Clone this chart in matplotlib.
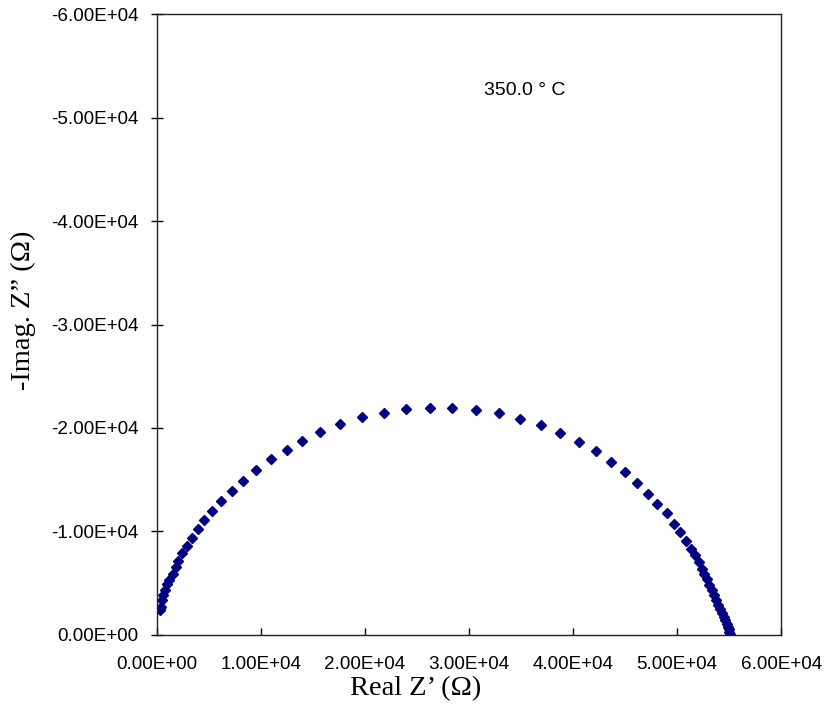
import matplotlib
matplotlib.use("Agg")
import matplotlib.pyplot as plt
from matplotlib.ticker import FuncFormatter, MultipleLocator

# Real Z' (ohm)
z_real = [317, 384, 509, 634, 826, 1018, 1210, 1537, 1825, 2075, 2459, 2939,
          3420, 3996, 4573, 5341, 6206, 7262, 8319, 9510, 10951, 12488, 13987,
          15716, 17637, 19693, 21835, 23977, 26254, 28396, 30701, 32834, 34880,
          36888, 38770, 40567, 42229, 43641, 45015, 46168, 47195, 48089, 48973,
          49664, 50240, 50874, 51355, 51739, 52123, 52411, 52603, 52834, 53084,
          53295, 53487, 53679, 53871, 54063, 54255, 54447, 54591, 54735, 54831,
          54927, 55004, 55071]
# Imag Z'' (ohm), negative
z_imag = [-2415, -2734, -3382, -3865, -4348, -4928, -5314, -5894, -6599, -7179,
          -7894, -8599, -9343, -10213, -11111, -11981, -12899, -13884, -14908,
          -15942, -16976, -17845, -18744, -19643, -20386, -21034, -21420, -21807,
          -21903, -21903, -21768, -21420, -20870, -20261, -19517, -18618, -17749,
          -16715, -15720, -14686, -13652, -12638, -11758, -10754, -9981, -9111,
          -8338, -7729, -7053, -6406, -5894, -5382, -4802, -4348, -3865, -3382,
          -2899, -2512, -2126, -1739, -1401, -1063, -773, -531, -290, -97]

annotation = "350.0 \u00b0 C"
xlabel = "Real Z\u2019 (\u03a9)"
ylabel = "-Imag. Z\u201d (\u03a9)"

fig = plt.figure(figsize=(8.24, 7.11), dpi=100)
ax = fig.add_axes([0.1902, 0.1069, 0.7580, 0.8734])

ax.plot(z_real, z_imag, linestyle="none", marker="D", markersize=5.3,
        color="#000080", markeredgecolor="#000080")

ax.set_xlim(0, 60000)
ax.set_ylim(0, -60000)
ax.xaxis.set_major_locator(MultipleLocator(10000))
ax.yaxis.set_major_locator(MultipleLocator(10000))
fmt = FuncFormatter(lambda v, p: "%.2E" % v)
ax.xaxis.set_major_formatter(fmt)
ax.yaxis.set_major_formatter(fmt)

tick_font = "Liberation Sans"
ax.tick_params(axis="x", direction="in", length=5, width=1, pad=15,
               labelsize=13.6)
ax.tick_params(axis="y", direction="inout", length=9, width=1, pad=8.5,
               labelsize=13.6)
for lab in ax.get_xticklabels() + ax.get_yticklabels():
    lab.set_fontfamily(tick_font)

for s in ax.spines.values():
    s.set_linewidth(1)
    s.set_color("#222222")

ax.set_xlabel(xlabel, fontsize=20.5, fontfamily="Liberation Serif")
ax.set_ylabel(ylabel, fontsize=20.5, fontfamily="Liberation Serif")
ax.xaxis.set_label_coords(0.415, -0.066)
ax.yaxis.set_label_coords(-0.194, 0.523)

ax.text(31400, -52600, annotation, fontsize=14, fontfamily=tick_font,
        va="center", ha="left")

fig.savefig("out.png", dpi=100)
